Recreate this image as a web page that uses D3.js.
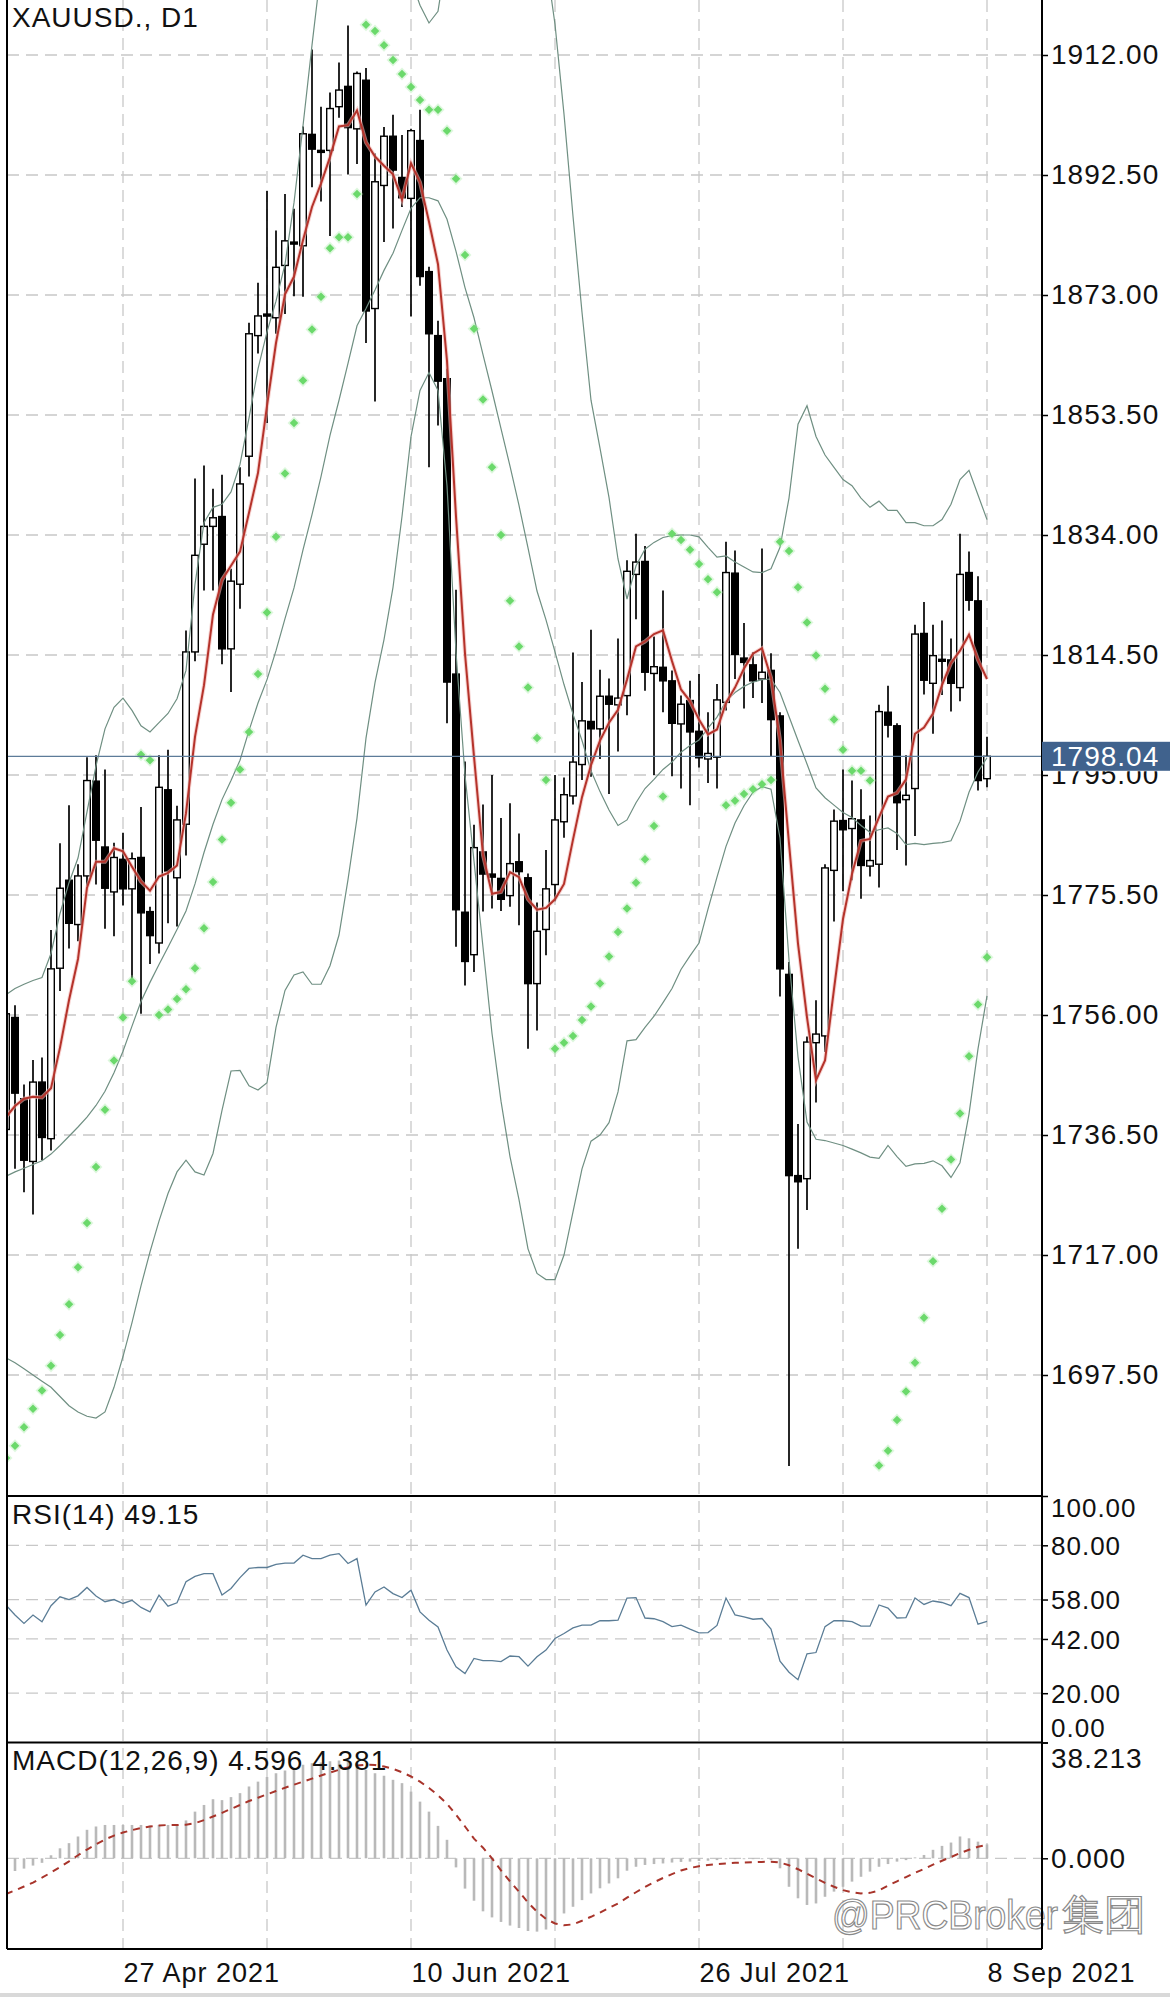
<!DOCTYPE html>
<html>
<head>
<meta charset="utf-8">
<title>XAUUSD., D1</title>
<script src="https://cdn.jsdelivr.net/npm/d3@7/dist/d3.min.js"></script>
<style>
  html, body { margin:0; padding:0; background:#ffffff; }
  svg { display:block; }
  text { font-family: "Liberation Sans", Arial, Helvetica, sans-serif; }
</style>
</head>
<body>
<svg id="chart" width="1170" height="1997" viewBox="0 0 1170 1997"></svg>
<script>
// ---------------- DATA ----------------
const opens = [1737.4,1755.6,1742.4,1732.2,1745.1,1735.9,1763.6,1777.9,1770.7,1778.6,
1794.0,1783.3,1776.0,1781.3,1776.5,1781.6,1772.8,1767.7,1792.6,1778.3,
1787.0,1815.0,1832.5,1835.4,1837.0,1815.5,1826.0,1846.8,1866.4,1869.9,
1869.3,1877.8,1881.6,1881.0,1899.1,1896.5,1896.5,1903.6,1906.9,1900.0,
1907.9,1870.8,1890.8,1898.8,1892.1,1888.7,1898.1,1876.8,1866.4,1859.4,
1811.4,1772.7,1765.8,1782.5,1778.9,1778.2,1775.4,1780.9,1778.3,1761.1,
1769.9,1777.2,1787.4,1791.6,1796.7,1803.7,1802.5,1807.8,1806.4,1807.9,
1827.6,1829.7,1811.5,1812.5,1810.3,1803.3,1807.1,1802.1,1797.6,1797.9,
1806.8,1827.8,1814.0,1812.9,1810.6,1812.0,1804.6,1762.6,1729.9,1729.4,
1751.5,1752.6,1779.5,1787.6,1786.3,1787.7,1780.2,1780.5,1805.2,1803.0,
1791.0,1792.8,1818.0,1809.9,1813.8,1813.7,1809.2,1827.9,1823.3,1794.4];
const highs = [1758.5,1757.6,1744.7,1748.7,1749.1,1769.8,1783.9,1790.1,1780.5,1797.9,
1798.2,1795.9,1784.0,1785.6,1782.4,1789.8,1773.6,1798.2,1799.1,1790.0,
1818.5,1843.2,1845.3,1841.5,1843.8,1828.5,1845.0,1868.5,1875.0,1889.9,
1883.5,1889.4,1887.0,1900.4,1912.9,1903.6,1905.9,1910.8,1916.8,1909.3,
1909.9,1896.0,1900.3,1902.3,1899.0,1900.0,1903.1,1877.6,1868.8,1861.0,
1825.1,1797.2,1786.9,1790.2,1795.0,1788.0,1790.4,1785.5,1779.0,1774.3,
1782.8,1795.0,1794.6,1814.9,1810.1,1818.6,1812.1,1810.7,1817.2,1829.9,
1834.2,1832.2,1817.5,1825.0,1812.0,1807.9,1810.3,1811.4,1805.2,1809.8,
1832.9,1831.5,1819.7,1815.0,1831.8,1814.8,1805.2,1764.6,1738.3,1752.5,
1758.4,1780.5,1789.4,1795.9,1794.1,1792.7,1788.4,1806.4,1809.5,1803.4,
1798.2,1819.4,1823.1,1819.4,1820.1,1817.2,1834.2,1831.3,1827.3,1801.2];
const lows = [1735.0,1731.0,1727.2,1723.6,1732.4,1734.0,1759.9,1766.8,1768.0,1777.0,
1777.2,1770.0,1768.8,1773.8,1761.5,1756.2,1764.3,1766.0,1770.9,1770.4,
1781.9,1813.5,1825.0,1825.0,1813.0,1808.5,1822.0,1843.5,1863.5,1852.2,
1866.7,1869.9,1872.8,1872.7,1890.5,1888.2,1882.6,1901.8,1892.6,1894.3,
1865.2,1855.7,1881.6,1883.8,1887.3,1869.5,1874.5,1845.0,1851.8,1803.4,
1767.1,1760.8,1763.0,1772.8,1773.3,1772.9,1773.6,1770.6,1750.5,1753.5,
1765.7,1774.5,1784.8,1790.2,1794.2,1794.7,1797.6,1791.9,1798.8,1804.7,
1820.3,1808.7,1795.0,1805.2,1794.8,1792.8,1790.1,1796.2,1793.7,1792.8,
1805.5,1810.6,1805.8,1807.5,1806.7,1798.0,1759.0,1682.7,1718.0,1724.3,
1741.8,1750.0,1771.2,1776.1,1777.9,1774.9,1778.5,1776.7,1801.1,1782.8,
1780.3,1785.1,1808.1,1801.7,1808.0,1805.3,1807.0,1821.7,1792.5,1793.0];
const closes = [1756.2,1743.3,1732.4,1745.1,1736.1,1763.5,1776.6,1770.9,1778.6,1794.1,
1784.4,1776.6,1781.6,1776.5,1781.4,1772.6,1768.9,1793.0,1779.4,1787.7,
1815.0,1830.7,1835.4,1836.8,1815.5,1826.5,1842.3,1866.7,1869.6,1869.7,
1877.5,1881.8,1881.4,1899.2,1896.7,1896.4,1903.3,1906.3,1900.2,1909.0,
1870.4,1891.4,1898.8,1893.3,1888.8,1899.7,1876.0,1866.7,1859.0,1810.1,
1773.1,1764.7,1783.2,1778.9,1778.4,1774.8,1780.6,1779.3,1761.1,1769.6,
1776.5,1787.7,1791.8,1797.1,1803.8,1802.5,1807.8,1806.5,1807.5,1828.1,
1829.6,1811.7,1812.6,1810.3,1803.4,1806.5,1802.0,1797.8,1798.5,1807.2,
1827.9,1814.6,1813.3,1810.3,1811.7,1804.0,1763.5,1729.9,1728.9,1751.6,
1752.9,1779.9,1787.5,1786.1,1787.9,1780.3,1781.1,1805.3,1803.1,1790.5,
1791.7,1817.9,1810.4,1814.4,1813.6,1809.9,1827.6,1823.4,1794.1,1798.04];

// red moving average line
const maLine = [1739.4,1741.2,1742.4,1742.7,1742.6,1744.1,1750.7,1758.4,1765.1,1776.7,
1780.9,1780.9,1783.1,1782.6,1780.1,1777.7,1776.2,1778.5,1779.1,1780.3,
1788.8,1801.2,1809.6,1821.1,1826.7,1829.0,1831.3,1837.6,1844.1,1855.0,
1865.2,1873.1,1876.0,1881.9,1887.3,1891.1,1895.4,1900.4,1900.6,1903.0,
1897.8,1895.5,1894.0,1892.6,1888.5,1894.4,1891.3,1884.9,1878.0,1862.3,
1837.0,1814.7,1798.0,1782.0,1775.7,1776.0,1779.2,1778.4,1774.8,1773.1,
1773.4,1774.8,1777.3,1784.5,1791.4,1796.6,1800.6,1803.5,1805.6,1810.5,
1815.9,1816.7,1817.9,1818.5,1813.5,1808.9,1807.0,1804.0,1801.6,1802.4,
1806.7,1809.2,1812.3,1814.7,1815.6,1810.8,1800.6,1783.9,1767.6,1755.6,
1745.4,1748.6,1760.2,1771.6,1778.9,1784.3,1784.6,1788.1,1791.5,1792.1,
1794.3,1801.7,1802.7,1805.0,1809.6,1813.2,1815.2,1817.8,1813.7,1810.6];

// Bollinger bands (thin grey-green lines)
const bandUpper = [1759.3,1760.3,1761.0,1761.6,1762.1,1766.0,1772.5,1777.5,1781.5,1789.0,
1796.5,1802.5,1806.0,1807.5,1805.5,1803.0,1802.0,1803.5,1805.0,1807.4,
1812.0,1826.0,1836.0,1838.5,1839.0,1841.0,1845.5,1853.0,1861.0,1867.0,
1872.0,1878.0,1888.0,1900.5,1913.6,1926.0,1936.4,1942.8,1945.8,1948.0,
1940.6,1937.6,1937.0,1934.1,1930.0,1924.2,1920.1,1917.2,1919.1,1928.6,
1945.2,1953.4,1957.6,1959.6,1961.8,1960.6,1957.4,1951.6,1945.8,1935.8,
1927.4,1917.0,1902.4,1885.8,1870.2,1855.9,1848.1,1840.1,1830.1,1823.6,
1829.0,1831.7,1832.8,1833.6,1833.9,1834.0,1834.0,1833.7,1832.0,1830.4,
1830.6,1829.6,1828.8,1828.0,1827.9,1828.5,1832.0,1840.0,1852.0,1855.0,
1850.0,1847.0,1845.0,1843.0,1842.0,1840.0,1838.5,1839.5,1838.0,1838.0,
1836.0,1836.0,1835.5,1835.5,1836.5,1839.0,1843.0,1844.5,1840.5,1836.5];
const bandMiddle = [1729.8,1730.5,1731.1,1731.7,1732.3,1733.4,1734.8,1736.3,1737.8,1739.4,
1741.3,1743.6,1746.6,1750.1,1754.2,1758.2,1761.3,1764.2,1767.0,1769.9,
1772.9,1777.3,1782.4,1787.0,1791.0,1794.1,1797.4,1802.2,1806.7,1810.5,
1815.2,1820.4,1825.4,1831.6,1837.3,1843.5,1850.2,1855.9,1861.9,1868.0,
1870.8,1873.8,1877.0,1879.8,1883.5,1887.1,1888.8,1888.8,1888.3,1885.3,
1880.1,1874.2,1869.3,1863.3,1857.4,1851.3,1845.2,1838.8,1831.9,1824.9,
1820.2,1815.0,1809.7,1804.9,1800.6,1795.7,1792.3,1789.3,1786.8,1787.7,
1790.5,1792.8,1794.3,1795.9,1797.1,1798.7,1799.8,1800.7,1802.6,1804.4,
1807.0,1808.4,1809.4,1810.1,1810.5,1810.6,1808.4,1804.5,1800.6,1796.8,
1792.9,1791.3,1790.1,1788.9,1788.1,1786.8,1785.7,1786.1,1786.4,1785.5,
1783.7,1783.9,1783.7,1783.9,1784.0,1784.3,1787.5,1792.2,1795.5,1797.8];
const bandLower = [1700.3,1699.5,1698.5,1697.5,1696.5,1695.5,1694.0,1692.5,1691.5,1690.8,
1690.5,1691.5,1695.5,1700.5,1706.0,1712.0,1717.5,1722.5,1727.0,1730.5,
1732.4,1730.5,1730.0,1733.5,1740.5,1746.9,1747.0,1744.5,1743.8,1745.0,
1754.0,1760.0,1762.5,1763.0,1761.0,1761.0,1764.0,1769.0,1778.0,1788.0,
1801.0,1810.0,1817.0,1825.5,1837.0,1850.0,1857.5,1860.4,1857.5,1842.0,
1815.0,1795.0,1781.0,1767.0,1753.0,1742.0,1733.0,1726.0,1718.0,1714.0,
1713.0,1713.0,1717.0,1724.0,1731.0,1735.5,1736.5,1738.5,1743.5,1751.8,
1752.0,1754.0,1755.8,1758.0,1760.3,1763.4,1765.6,1767.7,1773.2,1778.4,
1783.4,1787.2,1790.0,1792.2,1793.1,1792.7,1784.8,1765.0,1749.2,1738.6,
1735.8,1735.6,1735.2,1734.8,1734.2,1733.6,1732.9,1732.7,1734.8,1733.0,
1731.4,1731.8,1731.9,1732.3,1731.5,1729.6,1732.0,1739.9,1750.5,1759.1];

// Parabolic SAR dots
const sarDots = [1684.0,1686.0,1689.0,1692.0,1695.0,1699.0,1704.0,1709.0,1715.0,1722.2,
1731.3,1740.6,1748.6,1755.6,1761.5,1798.3,1797.4,1756.0,1756.9,1758.6,
1760.2,1763.6,1770.1,1777.6,1784.5,1790.5,1795.9,1802.0,1811.4,1821.4,
1833.7,1844.0,1852.2,1859.1,1867.4,1872.7,1880.6,1882.4,1882.4,1889.4,
1916.9,1915.9,1913.6,1911.2,1908.9,1906.8,1904.7,1903.1,1903.1,1899.7,
1891.9,1879.5,1867.5,1856.0,1845.0,1834.0,1823.3,1815.9,1809.2,1801.0,
1794.2,1750.5,1751.5,1752.6,1755.2,1757.4,1761.1,1765.5,1769.5,1773.3,
1777.5,1781.3,1786.7,1791.5,1834.2,1833.2,1831.6,1829.3,1826.8,1824.7,
1790.1,1790.8,1791.9,1792.7,1793.5,1794.2,1832.9,1831.4,1825.5,1819.8,
1814.4,1809.0,1804.0,1799.1,1795.7,1795.7,1794.1,1682.8,1685.2,1690.2,
1694.8,1699.5,1706.8,1716.0,1724.5,1732.5,1740.0,1749.3,1757.7,1765.4];

// RSI(14)
const rsiValues = [55.7,51.7,48.3,51.7,49.0,55.5,59.1,58.0,59.5,62.9,
59.4,57.1,58.0,56.4,57.7,54.8,53.0,59.8,55.3,56.7,
65.2,67.4,68.5,68.5,59.8,62.5,66.9,70.6,71.0,71.0,
72.3,72.8,72.8,76.0,74.6,74.6,76.0,76.6,72.6,74.6,
55.7,61.1,63.1,60.4,58.8,61.8,53.0,49.6,46.9,37.5,
30.7,28.0,34.1,33.2,33.2,32.8,35.1,34.8,31.0,34.8,
37.5,42.2,44.2,46.5,47.6,47.6,49.4,49.4,49.6,58.6,
58.8,50.5,50.2,49.0,47.0,47.6,46.0,44.5,44.6,47.5,
58.6,51.8,51.0,50.0,50.3,46.0,33.0,28.5,25.5,36.0,
36.5,47.0,49.4,49.4,49.0,47.2,47.2,55.8,54.5,50.5,
50.7,58.6,56.0,57.4,56.8,55.5,60.5,58.8,48.0,49.15];

// MACD(12,26,9): main (histogram) and signal (dashed)
const macdMain = [-5.0,-4.2,-3.4,-2.4,-1.5,1.0,3.3,5.0,7.2,9.4,
10.5,11.0,11.0,11.0,11.0,11.0,10.8,11.0,11.0,11.0,
12.5,15.4,17.6,19.5,19.2,20.2,21.5,23.7,25.3,26.8,
28.1,29.0,29.8,30.9,31.4,31.6,32.0,32.3,32.0,31.4,
29.2,28.1,27.2,25.9,24.8,22.0,18.7,15.4,10.7,6.1,
-3.0,-10.0,-14.0,-17.5,-19.5,-21.0,-22.2,-23.0,-24.0,-24.2,
-23.5,-21.5,-18.2,-16.0,-13.8,-11.6,-9.9,-8.3,-6.6,-4.1,
-2.8,-2.2,-1.9,-1.7,-1.4,-1.2,-1.1,-0.9,-0.8,-0.6,
-0.3,-0.3,-0.3,-0.3,-0.3,-0.6,-3.3,-9.4,-13.2,-15.4,
-14.9,-12.7,-11.0,-9.4,-7.7,-6.1,-4.4,-2.8,-1.9,-1.1,
-0.6,0.3,1.1,2.8,4.1,5.2,7.2,6.6,5.5,4.596];
const macdSignal = [-11.8,-10.6,-9.3,-8.0,-6.4,-4.7,-2.9,-1.0,1.0,2.9,
4.6,6.2,7.5,8.5,9.3,10.0,10.5,10.8,11.0,11.0,
11.1,11.6,12.6,13.8,15.0,16.3,17.6,18.9,20.0,21.1,
22.2,23.3,24.3,25.3,26.3,27.3,28.3,29.2,30.0,30.6,
30.9,30.8,30.3,29.5,28.4,27.0,25.3,23.2,20.8,18.0,
14.4,10.5,6.5,3.5,0.0,-4.0,-7.6,-11.0,-14.6,-17.6,
-20.0,-21.5,-22.1,-21.8,-20.6,-19.3,-17.9,-16.4,-14.9,-13.0,
-11.2,-9.5,-7.9,-6.5,-5.2,-4.0,-3.2,-2.6,-2.2,-1.9,
-1.7,-1.5,-1.4,-1.3,-1.2,-1.1,-1.4,-2.3,-3.6,-5.1,
-6.6,-8.1,-9.4,-10.5,-11.2,-11.6,-11.4,-10.6,-9.0,-7.6,
-6.2,-4.8,-3.5,-2.1,-0.8,0.4,1.7,2.8,3.8,4.381];

// axis / label values
const priceTicks = [1912.00,1892.50,1873.00,1853.50,1834.00,1814.50,1795.00,1775.50,1756.00,1736.50,1717.00,1697.50];
const rsiTicks = [100,80,58,42,20,0];
const rsiGridLevels = [80,58,42,20];
const macdTicks = [38.213,0];
const gridBars = [13,29,45,61,77,93,109];
const dateBars = [13,45,77,109];
const dateLabels = ["27 Apr 2021","10 Jun 2021","26 Jul 2021","8 Sep 2021"];
const lastPrice = 1798.04;
const titleText = "XAUUSD., D1";
const rsiTitle = "RSI(14) 49.15";
const macdTitle = "MACD(12,26,9) 4.596 4.381";

// ---------------- LAYOUT ----------------
const svg = d3.select("#chart");
const LEFT = 7, RIGHT = 1042;
const MAIN_BOT = 1496, RSI_BOT = 1742.5, MACD_BOT = 1949;
const FONT = 28;

const x = d3.scaleLinear().domain([0, 115]).range([6, 1041]);
const y = d3.scaleLinear().domain([1697.5, 1912]).range([1375, 55]);
const yR = d3.scaleLinear().domain([0, 100]).range([RSI_BOT, MAIN_BOT]);
const yM = d3.scaleLinear().domain([0, 38.213]).range([1858.3, RSI_BOT]);
const idx = d3.range(closes.length);

svg.append("rect").attr("width", 1170).attr("height", 1997).attr("fill", "#ffffff");

const defs = svg.append("defs");
function addClip(id, y0, y1) {
  defs.append("clipPath").attr("id", id).append("rect")
    .attr("x", LEFT).attr("y", y0).attr("width", RIGHT - LEFT).attr("height", y1 - y0);
}
addClip("cMain", 0, MAIN_BOT);
addClip("cRsi", MAIN_BOT, RSI_BOT);
addClip("cMacd", RSI_BOT, MACD_BOT);

// grid
const grid = svg.append("g").attr("fill", "none").attr("stroke", "#c8c8c8")
  .attr("stroke-width", 1.3).attr("stroke-dasharray", "12,7");
grid.selectAll("line.hp").data(priceTicks).join("line").attr("class", "hp")
  .attr("x1", LEFT).attr("x2", RIGHT).attr("y1", d => y(d)).attr("y2", d => y(d));
grid.selectAll("line.hr").data(rsiGridLevels).join("line").attr("class", "hr")
  .attr("x1", LEFT).attr("x2", RIGHT).attr("y1", d => yR(d)).attr("y2", d => yR(d));
grid.append("line").attr("x1", LEFT).attr("x2", RIGHT).attr("y1", yM(0)).attr("y2", yM(0));
grid.selectAll("line.v").data(gridBars).join("line").attr("class", "v")
  .attr("x1", d => x(d)).attr("x2", d => x(d)).attr("y1", 0).attr("y2", MACD_BOT);

// ---------------- MAIN PANEL ----------------
const gm = svg.append("g").attr("clip-path", "url(#cMain)");

// candles
const cg = gm.append("g");
cg.selectAll("line.wick").data(idx).join("line").attr("class", "wick")
  .attr("x1", i => x(i)).attr("x2", i => x(i))
  .attr("y1", i => y(highs[i])).attr("y2", i => y(lows[i]))
  .attr("stroke", "#000").attr("stroke-width", 1.7);
cg.selectAll("rect.body").data(idx).join("rect").attr("class", "body")
  .attr("x", i => x(i) - 3.3).attr("width", 6.6)
  .attr("y", i => y(Math.max(opens[i], closes[i])))
  .attr("height", i => Math.max(2, Math.abs(y(opens[i]) - y(closes[i]))))
  .attr("fill", i => closes[i] >= opens[i] ? "#ffffff" : "#000000")
  .attr("stroke", "#000").attr("stroke-width", 1.4);

// bands
const lineGen = (sc) => d3.line().x((d, i) => x(i)).y(d => sc(d));
[bandUpper, bandMiddle, bandLower].forEach(arr => {
  gm.append("path").datum(arr).attr("d", lineGen(y)).attr("fill", "none")
    .attr("stroke", "#6f8f82").attr("stroke-width", 1.2);
});

// red MA
gm.append("path").datum(maLine).attr("d", lineGen(y)).attr("fill", "none")
  .attr("stroke", "#f2b8b4").attr("stroke-width", 4).attr("stroke-opacity", 0.6);
gm.append("path").datum(maLine).attr("d", lineGen(y)).attr("fill", "none")
  .attr("stroke", "#b5332b").attr("stroke-width", 2);

// SAR dots
const diamond = d3.symbol().type(d3.symbolSquare).size(36);
const glow = d3.symbol().type(d3.symbolSquare).size(84);
gm.selectAll("path.sarg").data(idx).join("path").attr("class", "sarg")
  .attr("d", glow).attr("transform", i => `translate(${x(i)},${y(sarDots[i])}) rotate(45)`)
  .attr("fill", "#9ee89e").attr("opacity", 0.35);
gm.selectAll("path.sar").data(idx).join("path").attr("class", "sar")
  .attr("d", diamond).attr("transform", i => `translate(${x(i)},${y(sarDots[i])}) rotate(45)`)
  .attr("fill", "#6bd96b");

// current price line
gm.append("line").attr("x1", LEFT).attr("x2", RIGHT).attr("y1", y(lastPrice)).attr("y2", y(lastPrice))
  .attr("stroke", "#5d7b99").attr("stroke-width", 1.3);

// title
svg.append("text").attr("x", 12).attr("y", 27).attr("font-size", FONT).attr("letter-spacing", 1)
  .attr("fill", "#111").text(titleText);

// ---------------- RSI PANEL ----------------
const gr = svg.append("g").attr("clip-path", "url(#cRsi)");
gr.append("path").datum(rsiValues).attr("d", lineGen(yR)).attr("fill", "none")
  .attr("stroke", "#5b7d96").attr("stroke-width", 1.3);
svg.append("text").attr("x", 12).attr("y", 1524).attr("font-size", FONT).attr("letter-spacing", 1)
  .attr("fill", "#111").text(rsiTitle);

// ---------------- MACD PANEL ----------------
const gmc = svg.append("g").attr("clip-path", "url(#cMacd)");
gmc.selectAll("line.hist").data(idx).join("line").attr("class", "hist")
  .attr("x1", i => x(i)).attr("x2", i => x(i))
  .attr("y1", yM(0)).attr("y2", i => yM(macdMain[i]))
  .attr("stroke", "#b9b9b9").attr("stroke-width", 2.6);
gmc.append("path").datum(macdSignal).attr("d", lineGen(yM)).attr("fill", "none")
  .attr("stroke", "#a8342b").attr("stroke-width", 2).attr("stroke-dasharray", "7,6");
svg.append("text").attr("x", 12).attr("y", 1770).attr("font-size", FONT).attr("letter-spacing", 1)
  .attr("fill", "#111").text(macdTitle);

// watermark (inside the MACD panel, above the date labels)
const wm = svg.append("g").attr("fill", "rgba(255,255,255,0.55)").attr("stroke", "#8a8a8a").attr("stroke-width", 1.2);
wm.append("text").attr("x", 832).attr("y", 1929).attr("font-size", 40).attr("textLength", 226)
  .attr("lengthAdjust", "spacingAndGlyphs").text("@PRCBroker");
wm.append("text").attr("x", 1062).attr("y", 1929).attr("font-size", 42)
  .attr("font-family", "Noto Sans CJK SC, sans-serif").text("集团");

// ---------------- FRAMES ----------------
const frame = svg.append("g").attr("stroke", "#000").attr("stroke-width", 2);
frame.append("line").attr("x1", LEFT).attr("x2", LEFT).attr("y1", 0).attr("y2", MACD_BOT);
frame.append("line").attr("x1", RIGHT).attr("x2", RIGHT).attr("y1", 0).attr("y2", MACD_BOT);
[MAIN_BOT, RSI_BOT, MACD_BOT].forEach(v =>
  frame.append("line").attr("x1", LEFT).attr("x2", RIGHT).attr("y1", v).attr("y2", v));

// ---------------- AXES ----------------
function styleAxis(g, size) {
  g.select(".domain").remove();
  g.selectAll(".tick line").attr("stroke", "#000").attr("stroke-width", 1.5);
  g.selectAll(".tick text").attr("font-size", size || FONT).attr("letter-spacing", 1)
    .attr("fill", "#111").attr("font-family", "Liberation Sans, Arial, sans-serif");
}
const axP = svg.append("g").attr("transform", `translate(${RIGHT},0)`)
  .call(d3.axisRight(y).tickValues(priceTicks).tickFormat(d3.format(".2f")).tickSize(6).tickPadding(3));
styleAxis(axP);

// the 1795.00 label sits partly under the price tag (as in the reference):
// clip it, in the tick's own coordinates, to the area below the tag
const tagBottom = y(lastPrice) + 14.5;
defs.append("clipPath").attr("id", "cBelowTag").append("rect")
  .attr("x", 0).attr("y", tagBottom - y(1795)).attr("width", 1170 - RIGHT).attr("height", 60);
axP.selectAll(".tick").filter(d => Math.abs(d - 1795) < 0.01).select("text")
  .attr("clip-path", "url(#cBelowTag)");

const axR = svg.append("g").attr("transform", `translate(${RIGHT},0)`)
  .call(d3.axisRight(yR).tickValues(rsiTicks).tickFormat(d3.format(".2f")).tickSize(6).tickPadding(3));
styleAxis(axR, 26);
axR.selectAll(".tick text").attr("dy", d => d === 100 ? "0.8em" : (d === 0 ? "-0.25em" : "0.35em"));

const axM = svg.append("g").attr("transform", `translate(${RIGHT},0)`)
  .call(d3.axisRight(yM).tickValues(macdTicks).tickFormat(d3.format(".3f")).tickSize(6).tickPadding(3));
styleAxis(axM);
axM.selectAll(".tick text").attr("dy", d => d > 1 ? "0.9em" : "0.32em");

const axD = svg.append("g").attr("transform", `translate(0,${MACD_BOT})`)
  .call(d3.axisBottom(x).tickValues(dateBars).tickFormat((d, i) => dateLabels[i]).tickSize(0).tickPadding(14));
styleAxis(axD, 27);
axD.selectAll(".tick text").attr("text-anchor", "start");

// current price tag
const tag = svg.append("g");
tag.append("rect").attr("x", RIGHT).attr("y", y(lastPrice) - 14.5).attr("width", 1170 - RIGHT).attr("height", 29)
  .attr("fill", "#40628d");
tag.append("text").attr("x", RIGHT + 9).attr("y", y(lastPrice)).attr("dy", "0.35em")
  .attr("font-size", FONT).attr("letter-spacing", 1).attr("fill", "#ffffff").text(d3.format(".2f")(lastPrice));

// bottom strip
svg.append("rect").attr("x", 0).attr("y", 1993).attr("width", 1170).attr("height", 4).attr("fill", "#d9d9d9");
</script>
</body>
</html>
